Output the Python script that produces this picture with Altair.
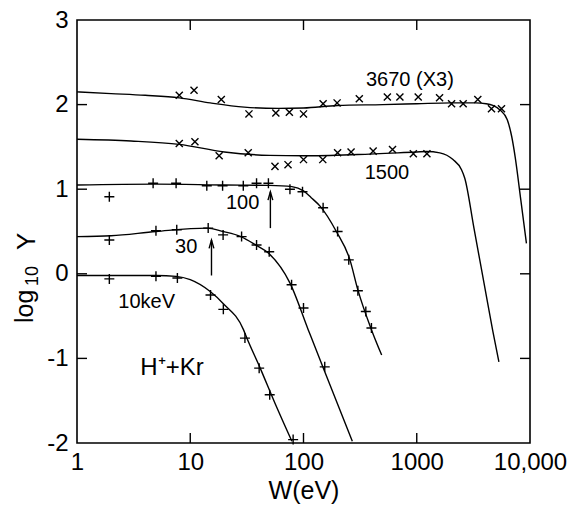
import altair as alt
import pandas as pd

FONT = "Liberation Sans"

# ---- fitted curves: W (eV) and log10 Y ----
c3670_w = [1, 2, 4, 8, 15, 30, 60, 100, 200, 500, 1000, 2000, 3300, 4100, 4700, 5400, 6300, 6900, 7400, 8300, 9300]
c3670_y = [2.15, 2.13, 2.11, 2.08, 2.02, 1.97, 1.955, 1.96, 1.99, 2.0, 2.01, 2.02, 2.02, 2.01, 1.99, 1.94, 1.82, 1.62, 1.38, 0.87, 0.36]

c1500_w = [1, 3, 8, 20, 50, 100, 300, 1000, 1220, 1600, 2090, 2485, 2655, 3200, 4000, 4700, 5310]
c1500_y = [1.59, 1.57, 1.53, 1.44, 1.40, 1.395, 1.41, 1.44, 1.445, 1.43, 1.35, 1.23, 1.13, 0.54, -0.17, -0.68, -1.04]

c100_w = [1, 5, 20, 50, 79, 100, 117, 140, 195, 257, 302, 398, 490]
c100_y = [1.05, 1.06, 1.05, 1.045, 1.03, 0.98, 0.9, 0.80, 0.50, 0.165, -0.19, -0.66, -0.96]

c30_w = [1, 2, 5, 14, 19.5, 28, 38, 49, 76, 110, 148, 270]
c30_y = [0.44, 0.45, 0.50, 0.54, 0.50, 0.44, 0.34, 0.245, -0.11, -0.66, -1.1, -1.98]

c10_w = [1, 5, 7.5, 10, 15, 19.5, 29.5, 31.6, 41, 56, 79]
c10_y = [-0.02, -0.02, -0.03, -0.07, -0.21, -0.35, -0.66, -0.76, -1.10, -1.53, -1.98]

# ---- measured points ('x' markers) ----
p3670_w = [8, 10.8, 18.8, 33, 57, 75, 100, 149, 198, 311, 550, 710, 1030, 1590, 2030, 2570, 3460, 4570, 5600]
p3670_y = [2.11, 2.17, 2.06, 1.89, 1.90, 1.91, 1.89, 2.01, 2.02, 2.07, 2.09, 2.09, 2.09, 2.08, 2.01, 2.01, 2.06, 1.95, 1.95]

p1500_w = [8, 11, 18, 32.5, 56, 73, 100, 148, 200, 263, 412, 611, 933, 1230]
p1500_y = [1.54, 1.56, 1.395, 1.43, 1.27, 1.29, 1.35, 1.35, 1.43, 1.44, 1.45, 1.47, 1.42, 1.42]

# ---- measured points ('+' markers) ----
p100_w = [1.93, 4.7, 7.5, 14, 19.3, 29.4, 38.5, 49, 75.9, 98, 149, 200, 251, 302, 355, 398]
p100_y = [0.91, 1.07, 1.07, 1.04, 1.04, 1.04, 1.07, 1.07, 1.0, 0.97, 0.78, 0.50, 0.165, -0.20, -0.445, -0.64]

p30_w = [1.93, 4.98, 7.6, 14.4, 19.5, 28.4, 38.5, 49.8, 78.5, 100, 154]
p30_y = [0.40, 0.51, 0.52, 0.54, 0.46, 0.44, 0.34, 0.26, -0.13, -0.405, -1.10]

p10_w = [1.93, 4.98, 7.7, 15.1, 19.6, 30.4, 40.6, 50.3, 81]
p10_y = [-0.06, -0.03, -0.05, -0.25, -0.42, -0.76, -1.115, -1.43, -1.96]

# ---- annotations ----
label_text = ["3670 (X3)", "1500", "100", "30", "10keV", "H\u207a+Kr"]
label_w = [870, 545, 29, 9.2, 4.12, 6.9]
label_y = [2.29, 1.19, 0.84, 0.315, -0.33, -1.11]
label_size = [20, 20, 20, 20, 20, 24]

arrow_w = [51, 15.4]
arrow_y1 = [0.54, -0.02]
arrow_y2 = [0.97, 0.40]

x_tick_vals = [10, 100, 1000]
y_tick_vals = [-1, 0, 1, 2]
x_label_vals = [1, 10, 100, 1000, 10000]
y_label_vals = [-2, -1, 0, 1, 2, 3]

W_PLOT, H_PLOT = 453, 423
TICK = 10

def frame(ws, ys, name):
    return pd.DataFrame({"W": ws, "Y": ys, "s": name})

curves = pd.concat([
    frame(c3670_w, c3670_y, "3670"), frame(c1500_w, c1500_y, "1500"),
    frame(c100_w, c100_y, "100"), frame(c30_w, c30_y, "30"), frame(c10_w, c10_y, "10"),
])
curves["o"] = range(len(curves))
plus_pts = pd.concat([frame(p100_w, p100_y, "100"), frame(p30_w, p30_y, "30"), frame(p10_w, p10_y, "10")])
x_pts = pd.concat([frame(p3670_w, p3670_y, "3670"), frame(p1500_w, p1500_y, "1500")])
labels = pd.DataFrame({"W": label_w, "Y": label_y, "t": label_text, "fs": label_size})
arrows = pd.DataFrame({"W": arrow_w, "Y": arrow_y1, "Y2": arrow_y2})

xscale = alt.Scale(type="log", domain=[1, 10000], nice=False)
yscale = alt.Scale(domain=[-2, 3], nice=False, zero=False)

xaxis = alt.Axis(values=x_label_vals, ticks=False, domain=False, grid=False,
                 labelExpr="datum.value >= 9999 ? '10,000' : format(datum.value, 'd')",
                 labelFontSize=24, labelFont=FONT, labelColor="black", labelFlush=False,
                 labelPadding=7, title="W(eV)", titleFont=FONT, titleFontSize=25,
                 titleFontWeight="normal", titleColor="black", titlePadding=4)
yaxis = alt.Axis(values=y_label_vals, ticks=False, domain=False, grid=False,
                 labelExpr="datum.value < 0 ? '-' + abs(datum.value) : '' + datum.value",
                 labelFontSize=24, labelFont=FONT, labelColor="black", labelPadding=9,
                 title=None)

X = lambda f="W": alt.X(f"{f}:Q", scale=xscale, axis=xaxis)
Y = lambda f="Y": alt.Y(f"{f}:Q", scale=yscale, axis=yaxis)

lines = alt.Chart(curves).mark_line(color="black", strokeWidth=1.4, interpolate="monotone").encode(
    x=X(), y=Y(), detail="s:N", order="o:Q")

PLUS = "M-1,0L1,0M0,-1L0,1"
CROSS = "M-1,-1L1,1M-1,1L1,-1"
plus = alt.Chart(plus_pts).mark_point(shape=PLUS, size=100, filled=False, color="black",
                                      strokeWidth=1.4, opacity=1).encode(x=X(), y=Y())
cross = alt.Chart(x_pts).mark_point(shape=CROSS, size=50, filled=False, color="black",
                                    strokeWidth=1.4, opacity=1).encode(x=X(), y=Y())

arrow_lines = alt.Chart(arrows).mark_rule(color="black", strokeWidth=1.4).encode(
    x=X(), y=Y(), y2="Y2:Q")
arrow_heads = alt.Chart(arrows).mark_point(shape="M-0.6,1.1L0,-1L0.6,1.1", size=64, filled=False,
                                           color="black", strokeWidth=1.4, opacity=1,
                                           yOffset=4).encode(x=X(), y=Y("Y2"))

texts = alt.Chart(labels).mark_text(font=FONT, color="black", align="center", baseline="middle").encode(
    x=X(), y=Y(), text="t:N", size=alt.Size("fs:Q", scale=None, legend=None))

xt = pd.DataFrame({"W": x_tick_vals})
yt = pd.DataFrame({"Y": y_tick_vals})
tick_b = alt.Chart(xt).mark_rule(color="black", strokeWidth=1.4).encode(
    x=X(), y=alt.value(H_PLOT), y2=alt.value(H_PLOT - TICK))
tick_t = alt.Chart(xt).mark_rule(color="black", strokeWidth=1.4).encode(
    x=X(), y=alt.value(0), y2=alt.value(TICK))
tick_l = alt.Chart(yt).mark_rule(color="black", strokeWidth=1.4).encode(
    y=Y(), x=alt.value(0), x2=alt.value(TICK))
tick_r = alt.Chart(yt).mark_rule(color="black", strokeWidth=1.4).encode(
    y=Y(), x=alt.value(W_PLOT), x2=alt.value(W_PLOT - TICK))

ytitle_df = pd.DataFrame({"t": ["log", "10", "Y"], "px": [-44, -39, -42], "py": [303, 266, 230],
                          "fs": [25, 18, 26]})
ytitle = alt.Chart(ytitle_df).mark_text(font=FONT, color="black", angle=270, align="left",
                                        baseline="alphabetic").encode(
    x=alt.X("px:Q", scale=None), y=alt.Y("py:Q", scale=None), text="t:N",
    size=alt.Size("fs:Q", scale=None, legend=None))

chart = alt.layer(lines, plus, cross, arrow_lines, arrow_heads, texts,
                  tick_b, tick_t, tick_l, tick_r, ytitle).properties(
    width=W_PLOT, height=H_PLOT,
    padding={"left": 77, "top": 20, "right": 45, "bottom": 65},
    autosize=alt.AutoSizeParams(type="none"),
    background="white",
).configure_view(stroke="black", strokeWidth=1.6)

chart.save("out.html", embed_options={"renderer": "svg", "actions": False})
